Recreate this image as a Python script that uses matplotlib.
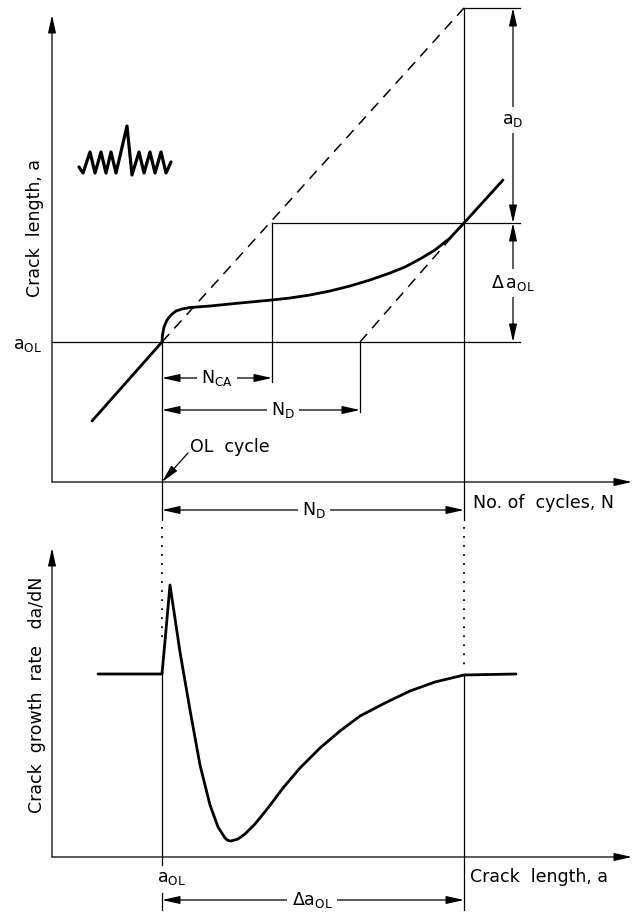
import numpy as np
import matplotlib
matplotlib.use("Agg")
import matplotlib.pyplot as plt

plt.rcParams['font.family'] = ['DejaVu Sans']
plt.rcParams['mathtext.default'] = 'regular'

# ---- top panel: crack length a vs cycles N (schematic units) ----
crack_N = [0.40, 1.10, 1.105, 1.12, 1.15, 1.19, 1.24, 1.30, 1.38, 1.58,
           1.88, 2.20, 2.38, 2.58, 2.78, 2.98, 3.18, 3.38, 3.53, 3.68,
           3.83, 3.98, 4.12, 4.51]
crack_a = [0.61, 1.40, 1.47, 1.55, 1.62, 1.67, 1.71, 1.73, 1.745, 1.76,
           1.79, 1.82, 1.84, 1.87, 1.91, 1.96, 2.02, 2.09, 2.15, 2.23,
           2.32, 2.44, 2.59, 3.02]

N_OL = 1.10       # overload cycle
N_CA = 2.20       # end of N_CA
N_Dd = 3.08       # delayed curve start
N_end = 4.12      # end of retardation
a_OL = 1.40
a_end = 2.59
a_top = 4.74

# load spectrum icon
icon_N = [0.27, 0.31, 0.38, 0.43, 0.49, 0.54, 0.59, 0.64, 0.75, 0.80,
          0.87, 0.92, 0.98, 1.03, 1.09, 1.14, 1.19]
icon_a = [3.15, 3.09, 3.30, 3.09, 3.30, 3.09, 3.30, 3.09, 3.56, 3.07,
          3.30, 3.09, 3.30, 3.09, 3.30, 3.09, 3.20]

# ---- bottom panel: da/dN vs crack length a ----
rate_a = [0.46, 1.10, 1.14, 1.18, 1.28, 1.38, 1.48, 1.58, 1.66,
          1.73, 1.76, 1.79, 1.86, 1.93, 2.03, 2.16, 2.31, 2.48, 2.68,
          2.88, 3.08, 3.35, 3.58, 3.83, 4.12, 4.64]
rate_r = [1.83, 1.83, 2.27, 2.72, 2.05, 1.47, 0.92, 0.52, 0.30,
          0.19, 0.165, 0.16, 0.18, 0.23, 0.33, 0.49, 0.69, 0.89, 1.09,
          1.26, 1.41, 1.55, 1.66, 1.75, 1.82, 1.83]

fig = plt.figure(figsize=(6.4, 9.15), dpi=100)
ax1 = fig.add_axes([0, 0, 1, 1])
ax2 = fig.add_axes([0, 0, 1, 1])
ax1.set_xlim(-0.52, 5.88)
ax1.set_ylim(-4.33, 4.82)
ax2.set_xlim(-0.52, 5.88)
ax2.set_ylim(-0.58, 8.57)
for ax in (ax1, ax2):
    ax.axis('off')
ax2.patch.set_alpha(0)

K = 'black'
thin = 0.9
fs = 12.5


def arrow(ax, tip, start, lw=thin, ms=12):
    ax.annotate('', xy=tip, xytext=start,
                arrowprops=dict(arrowstyle='-|>,head_length=0.9,head_width=0.2',
                                lw=lw, color=K, shrinkA=0, shrinkB=0,
                                mutation_scale=ms))


def dim(ax, p0, p1, label, lx, ly):
    ax.annotate('', xy=p1, xytext=p0,
                arrowprops=dict(arrowstyle='<|-|>,head_length=0.9,head_width=0.2',
                                lw=thin, color=K, shrinkA=0, shrinkB=0,
                                mutation_scale=12))
    ax.text(lx, ly, label, fontsize=fs, ha='center', va='center',
            bbox=dict(facecolor='white', edgecolor='none', pad=3), zorder=5)


# axes of top panel
arrow(ax1, (5.80, 0), (0, 0))
arrow(ax1, (0, 4.67), (0, 0))

# construction lines
ax1.plot([0, 4.68], [a_OL, a_OL], color=K, lw=thin)
ax1.plot([N_CA, 4.68], [a_end, a_end], color=K, lw=thin)
ax1.plot([N_end, 4.68], [a_top, a_top], color=K, lw=thin)
ax1.plot([N_OL, N_OL], [a_OL, -0.38], color=K, lw=thin)
ax1.plot([N_end, N_end], [a_top, -0.38], color=K, lw=thin)
ax1.plot([N_CA, N_CA], [a_end, 1.00], color=K, lw=thin)
ax1.plot([N_Dd, N_Dd], [a_OL, 0.70], color=K, lw=thin)

# dashed constant amplitude lines
ax1.plot([N_OL, N_end], [a_OL, a_top], color=K, lw=1.1, dashes=(7, 5))
ax1.plot([N_Dd, N_end], [a_OL, a_end], color=K, lw=1.1, dashes=(7, 5))

# crack growth curve
ax1.plot(crack_N, crack_a, color=K, lw=2.0, solid_capstyle='round',
         solid_joinstyle='round')

# load spectrum icon
ax1.plot(icon_N, icon_a, color=K, lw=2.3, solid_joinstyle='round',
         solid_capstyle='round')

# dimensions
dim(ax1, (4.61, a_top), (4.61, a_end), '$a_D$', 4.61, 3.62)
dim(ax1, (4.61, a_end), (4.61, a_OL), r'$\Delta\,a_{OL}$', 4.61, 1.99)
dim(ax1, (N_OL, 1.04), (N_CA, 1.04), '$N_{CA}$', 1.65, 1.04)
dim(ax1, (N_OL, 0.72), (N_Dd, 0.72), '$N_D$', 2.31, 0.72)
dim(ax1, (N_OL, -0.28), (N_end, -0.28), '$N_D$', 2.62, -0.28)

# OL cycle pointer
arrow(ax1, (N_OL, 0.0), (1.36, 0.29))
ax1.text(1.38, 0.35, 'OL  cycle', fontsize=fs, ha='left', va='center')

ax1.text(-0.24, 1.37, '$a_{OL}$', fontsize=fs, ha='center', va='center')
ax1.text(-0.17, 2.54, 'Crack  length, a', fontsize=fs, rotation=90,
         ha='center', va='center')
ax1.text(4.21, -0.21, 'No. of  cycles, N', fontsize=fs, ha='left', va='center')

# ---- bottom panel ----
arrow(ax2, (5.80, 0), (0, 0))
arrow(ax2, (0, 3.09), (0, 0))

ax2.plot([N_OL, N_OL], [1.85, -0.08], color=K, lw=thin)
ax2.plot([N_OL, N_OL], [-0.36, -0.53], color=K, lw=thin)
ax2.plot([N_end, N_end], [1.83, -0.53], color=K, lw=thin)
ax2.plot([N_OL, N_OL], [3.30, 2.17], color=K, lw=1.3, linestyle=(0, (1, 4)))
ax2.plot([N_end, N_end], [3.30, 1.89], color=K, lw=1.3, linestyle=(0, (1, 4)))

ax2.plot(rate_a, rate_r, color=K, lw=2.0, solid_joinstyle='round',
         solid_capstyle='round')

dim(ax2, (N_OL, -0.43), (N_end, -0.43), r'$\Delta a_{OL}$', 2.60, -0.43)
ax2.text(1.20, -0.21, '$a_{OL}$', fontsize=fs, ha='center', va='center')
ax2.text(4.18, -0.20, 'Crack  length, a', fontsize=fs, ha='left', va='center')
ax2.text(-0.15, 1.62, 'Crack  growth  rate   da/dN', fontsize=fs,
         rotation=90, ha='center', va='center')

fig.savefig('out.png', dpi=100, facecolor='white')
